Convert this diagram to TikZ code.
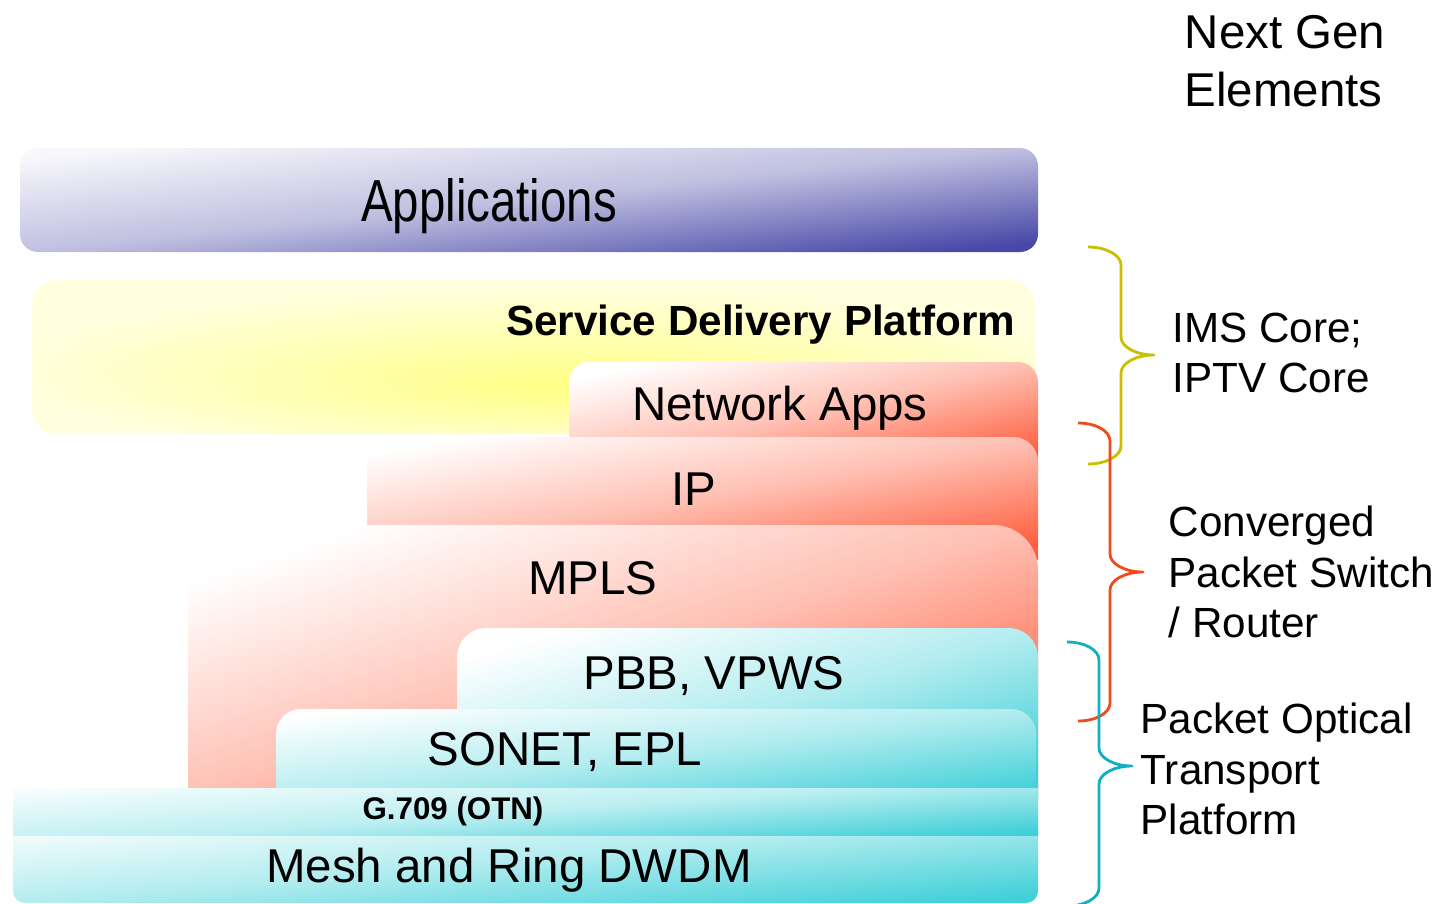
\documentclass[tikz,border=0pt]{standalone}
\usepackage{graphicx}
\usepackage{fontspec}
\setmainfont{Liberation Sans}
\definecolor{appblue}{RGB}{72,72,168}
\definecolor{netred}{RGB}{255,96,64}
\definecolor{otnteal}{RGB}{64,208,216}
\definecolor{imsyellow}{RGB}{200,192,0}
\definecolor{cpsorange}{RGB}{240,74,32}
\definecolor{potteal}{RGB}{16,176,192}
\pgfdeclareradialshading{sdpglow}{\pgfpoint{2bp}{-10bp}}{color(0bp)=(yellow!48); color(28bp)=(yellow!12); color(50bp)=(yellow!12)}

\begin{document}
\begin{tikzpicture}[x=0.01cm,y=-0.01cm,
    lbl/.style={inner sep=0pt,anchor=base,font=\fontsize{13.5}{16}\selectfont},
    side/.style={inner sep=0pt,anchor=west,align=left,font=\fontsize{12}{14.4}\selectfont},
    redlayer/.style={top color=white,bottom color=netred,middle color=netred!40},
    teallayer/.style={top color=white,bottom color=otnteal,middle color=otnteal!40},
    brace/.style={line width=0.8pt,line join=round}]
            \useasboundingbox (0,0) rectangle (1446,903);
            % layers, back to front (only the top corners are rounded)
            \path[rounded corners=0.18cm,top color=appblue!4,bottom color=appblue,middle color=appblue!35,shading angle=6] (20,148) rectangle (1038,252);
            \path[rounded corners=0.25cm,shading=sdpglow] (32,280) rectangle (1035,434);
            \path[redlayer,shading angle=13] (569,470) -- (569,382) .. controls (569,371) and (578,362) .. (589,362)
                -- (1018,362) .. controls (1029,362) and (1038,371) .. (1038,382) -- (1038,470) -- cycle;
            \path[redlayer,shading angle=10] (367,560) -- (367,462) .. controls (367,448) and (378,437) .. (392,437)
                -- (1013,437) .. controls (1027,437) and (1038,448) .. (1038,462) -- (1038,560) -- cycle;
            \path[redlayer,shading angle=18] (188,800) -- (188,570) .. controls (188,545) and (208,525) .. (233,525)
                -- (993,525) .. controls (1018,525) and (1038,545) .. (1038,570) -- (1038,800) -- cycle;
            \path[teallayer,shading angle=16] (457,800) -- (457,658) .. controls (457,641) and (470,628) .. (487,628)
                -- (1008,628) .. controls (1025,628) and (1038,641) .. (1038,658) -- (1038,800) -- cycle;
            \path[teallayer,shading angle=7] (276,800) -- (276,734) .. controls (276,720) and (287,709) .. (301,709)
                -- (1011,709) .. controls (1025,709) and (1036,720) .. (1036,734) -- (1036,800) -- cycle;
            \path[teallayer,shading angle=5,rounded corners=0.12cm] (13,815) rectangle (1038,903);
            \path[top color=otnteal!5,bottom color=otnteal,middle color=otnteal!35,shading angle=4] (13,788) rectangle (1038,835);
            % layer names
            \node[lbl] (apps) at (489,221) {\scalebox{1}[1.25]{Applications}};
            \node[lbl,anchor=base east,font=\bfseries\fontsize{12}{14}\selectfont] (sdp) at (1016,335) {Service Delivery Platform};
            \node[lbl] (netapps) at (780,420) {Network Apps};
            \node[lbl] (ip) at (694,505) {IP};
            \node[lbl] (mpls) at (593,594) {MPLS};
            \node[lbl] (pbb) at (714,689) {PBB, VPWS};
            \node[lbl] (sonet) at (565,765) {SONET, EPL};
            \node[lbl,font=\bfseries\fontsize{8.9}{10}\selectfont] (otn) at (453,819) {G.709 (OTN)};
            \node[lbl] (dwdm) at (509,882) {Mesh and Ring DWDM};
            % braces
            \draw[brace,imsyellow] (1088,247) .. controls (1106,247) and (1121,255) .. (1121,265)
                -- (1121,337) .. controls (1121,347) and (1136,355) .. (1154,355)
                .. controls (1136,355) and (1121,363) .. (1121,373)
                -- (1121,446) .. controls (1121,456) and (1106,464) .. (1088,464);
            \draw[brace,cpsorange] (1078,423) .. controls (1096,423) and (1110,431) .. (1110,441)
                -- (1110,554) .. controls (1110,564) and (1125,572) .. (1143,572)
                .. controls (1125,572) and (1110,580) .. (1110,590)
                -- (1110,703) .. controls (1110,713) and (1096,721) .. (1078,721);
            \draw[brace,potteal] (1067,642) .. controls (1085,642) and (1099,650) .. (1099,660)
                -- (1099,748) .. controls (1099,758) and (1114,766) .. (1132,766)
                .. controls (1114,766) and (1099,774) .. (1099,784)
                -- (1099,888) .. controls (1099,898) and (1085,906) .. (1067,906);
            % element names
            \node[side,font=\fontsize{13.5}{16.5}\selectfont] (nextgen) at (1184,61) {Next Gen\\Elements};
            \node[side] (ims) at (1172,353) {IMS Core;\\IPTV Core};
            \node[side] (cps) at (1168,572) {Converged\\Packet Switch\\/ Router};
            \node[side] (pot) at (1140,769) {Packet Optical\\Transport\\Platform};
    \end{tikzpicture}
\end{document}
